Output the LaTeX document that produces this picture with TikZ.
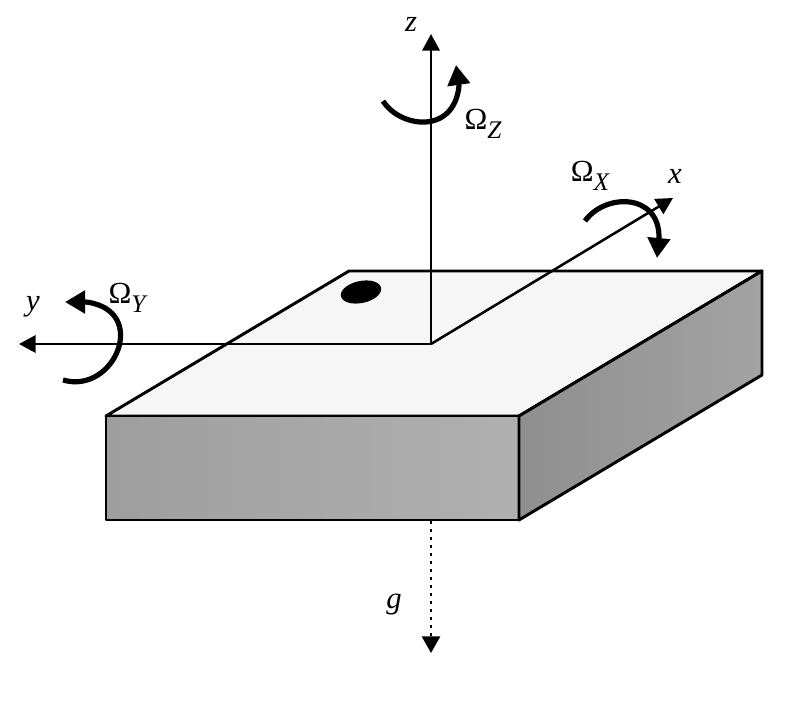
\documentclass[tikz,border=0pt]{standalone}
\usepackage{fontspec}
\setmainfont{Liberation Serif}
\usetikzlibrary{arrows.meta}
\definecolor{topface}{HTML}{F6F6F6}
\newcommand{\omlabel}[1]{\fontsize{23}{26}\selectfont Ω\raisebox{-6.5pt}{\fontsize{19}{22}\selectfont\itshape #1}}
\tikzset{
  axisline/.style={draw=black,line width=1.9pt,-{Triangle[length=12.5pt,width=13pt]}},
  gravityline/.style={draw=black,line width=2.2pt,line cap=butt,dash pattern=on 2.2pt off 3.8pt,-{Triangle[length=12.5pt,width=13.5pt]}},
  spin/.style={draw=black,line width=3.9pt,-{Triangle[length=15pt,width=16.5pt]}},
  face/.style={draw=black,line width=2.2pt,line join=round},
  lbl/.style={inner sep=0pt,font=\fontsize{23}{26}\selectfont\itshape},
  omlbl/.style={inner sep=0pt}
}
\begin{document}
\begin{tikzpicture}[x=0.75pt,y=-0.75pt]
\useasboundingbox (0,0) rectangle (788,706);
\coordinate (tl) at (349,271);
\coordinate (tr) at (762,271);
\coordinate (fr) at (519,416);
\coordinate (fl) at (106,416);
\coordinate (br) at (519,520);
\coordinate (bl) at (106,520);
\coordinate (bs) at (762,375);
\coordinate (o) at (431,344);
\coordinate (zt) at (431,34);
\coordinate (xt) at (673,198);
\coordinate (yt) at (19,344);
\coordinate (gs) at (431,521);
\coordinate (gt) at (431,653);
\filldraw[face,fill=topface] (tl) -- (tr) -- (fr) -- (fl) -- cycle;
\shade[left color=black!38,right color=black!31] (fl) rectangle (br);
\draw[face] (fl) -- (fr) -- (br) -- (bl) -- cycle;
\shade[left color=black!44,right color=black!36] (fr) -- (tr) -- (bs) -- (br) -- cycle;
\draw[face] (fr) -- (tr) -- (bs) -- (br) -- cycle;
\fill[black,rotate around={12:(361,292)}] (361,292) ellipse [x radius=20.5,y radius=11];
\draw[axisline] (o) -- (zt);
\draw[axisline] (o) -- (xt);
\draw[axisline] (o) -- (yt);
\draw[gravityline] (gs) -- (gt);
\coordinate (zs) at (383,101);
\coordinate (zb) at (459,86);
\coordinate (ze) at (456,65);
\coordinate (xs) at (585,221);
\coordinate (xb) at (659,237);
\coordinate (xe) at (657,258);
\coordinate (ys) at (63,380);
\coordinate (yb) at (86,302);
\coordinate (ye) at (65,302);
\draw[spin] (zs) .. controls (400,128) and (454,135) .. (zb) -- (ze);
\draw[spin] (xs) .. controls (605,193) and (659,193) .. (xb) -- (xe);
\draw[spin] (ys) .. controls (115,395) and (150,310) .. (yb) -- (ye);
\node[lbl] (lz) at (411,24) {z};
\node[omlbl] (lOz) at (483,124) {\omlabel{Z}};
\node[omlbl] (lOx) at (590,176) {\omlabel{X}};
\node[lbl] (lx) at (675,176) {x};
\node[lbl] (ly) at (33,307) {y};
\node[omlbl] (lOy) at (127,298) {\omlabel{Y}};
\node[lbl] (lg) at (394,605) {g};
\end{tikzpicture}
\end{document}
